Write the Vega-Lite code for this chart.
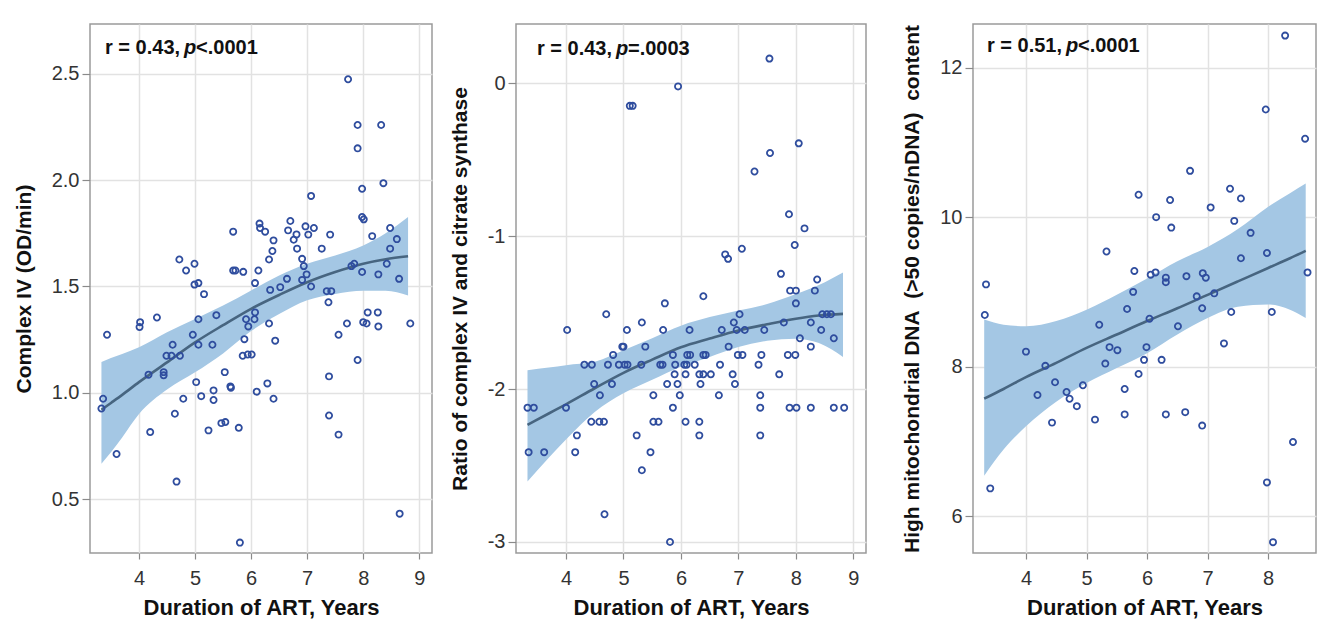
{
  "$schema": "https://vega.github.io/schema/vega-lite/v6.json",
  "padding": {"left": 12, "top": 23, "right": 0, "bottom": 0},
  "autosize": {"type": "pad"},
  "config": {
    "view": {"stroke": "#9a9a9a", "strokeWidth": 1.5},
    "axis": {
      "labelFont": "Liberation Sans", "labelFontSize": 20, "labelColor": "#333333",
      "titleFont": "Liberation Sans", "titleFontSize": 21, "titleFontWeight": "bold", "titleColor": "#111111",
      "domain": false, "gridColor": "#e2e2e2", "gridWidth": 1.5, "tickColor": "#8a8a8a", "tickWidth": 1.2
    },
    "axisX": {"tickSize": 6, "labelPadding": 9, "titlePadding": 9, "titleFontSize": 22},
    "axisY": {"tickSize": 8, "labelPadding": 3, "titlePadding": 17},
    "text": {"font": "Liberation Sans"}
  },
  "datasets": {
    "p1": [
      {"x":7.73,"y":2.475},{"x":7.90,"y":2.26},{"x":8.32,"y":2.26},{"x":7.90,"y":2.15},{"x":8.36,"y":1.986},{"x":7.98,"y":1.96},{"x":7.07,"y":1.926},{"x":7.98,"y":1.827},{"x":8.01,"y":1.816},{"x":8.48,"y":1.775},{"x":8.16,"y":1.737},{"x":8.60,"y":1.723},{"x":8.48,"y":1.678},{"x":7.84,"y":1.607},{"x":7.79,"y":1.596},{"x":7.98,"y":1.568},{"x":8.27,"y":1.557},{"x":8.42,"y":1.607},{"x":8.64,"y":1.536},{"x":7.41,"y":1.744},{"x":7.26,"y":1.678},{"x":6.70,"y":1.808},{"x":6.66,"y":1.764},{"x":6.81,"y":1.745},{"x":6.76,"y":1.720},{"x":6.82,"y":1.678},{"x":6.97,"y":1.783},{"x":7.02,"y":1.744},{"x":7.12,"y":1.775},{"x":6.91,"y":1.630},{"x":6.94,"y":1.596},{"x":6.99,"y":1.557},{"x":6.91,"y":1.531},{"x":7.07,"y":1.5},{"x":6.64,"y":1.536},{"x":6.52,"y":1.497},{"x":6.34,"y":1.484},{"x":7.35,"y":1.478},{"x":7.43,"y":1.478},{"x":7.38,"y":1.426},{"x":5.68,"y":1.758},{"x":6.15,"y":1.796},{"x":6.16,"y":1.775},{"x":6.25,"y":1.758},{"x":6.40,"y":1.717},{"x":6.38,"y":1.667},{"x":6.32,"y":1.627},{"x":5.68,"y":1.575},{"x":5.72,"y":1.575},{"x":5.86,"y":1.569},{"x":6.13,"y":1.575},{"x":6.07,"y":1.516},{"x":4.72,"y":1.627},{"x":4.84,"y":1.575},{"x":4.99,"y":1.607},{"x":4.99,"y":1.509},{"x":5.06,"y":1.516},{"x":5.16,"y":1.464},
      {"x":3.43,"y":1.273},{"x":4.02,"y":1.332},{"x":4.01,"y":1.309},{"x":4.32,"y":1.354},{"x":5.06,"y":1.346},{"x":5.38,"y":1.365},{"x":4.96,"y":1.273},{"x":4.60,"y":1.226},{"x":5.06,"y":1.226},{"x":5.31,"y":1.226},{"x":4.49,"y":1.174},{"x":4.58,"y":1.174},{"x":4.73,"y":1.174},{"x":4.17,"y":1.085},{"x":4.44,"y":1.097},{"x":4.44,"y":1.082},{"x":5.02,"y":1.05},{"x":5.53,"y":1.097},{"x":5.33,"y":1.011},{"x":5.63,"y":1.03},{"x":5.64,"y":1.024},{"x":5.11,"y":0.984},{"x":5.33,"y":0.966},{"x":4.79,"y":0.972},{"x":6.10,"y":1.005},{"x":6.29,"y":1.044},{"x":6.40,"y":0.972},{"x":5.85,"y":1.174},{"x":5.94,"y":1.18},{"x":6.01,"y":1.18},{"x":5.88,"y":1.252},{"x":5.91,"y":1.346},{"x":6.07,"y":1.378},{"x":6.06,"y":1.346},{"x":5.95,"y":1.312},{"x":6.32,"y":1.326},{"x":6.43,"y":1.245},{"x":3.36,"y":0.972},{"x":3.33,"y":0.926},{"x":3.60,"y":0.712},{"x":4.20,"y":0.815},{"x":4.64,"y":0.901},{"x":4.67,"y":0.582},{"x":5.24,"y":0.823},{"x":5.47,"y":0.857},{"x":5.54,"y":0.862},{"x":5.78,"y":0.835},{"x":5.80,"y":0.295},{"x":8.65,"y":0.431},{"x":7.39,"y":1.077},{"x":7.39,"y":0.893},{"x":7.56,"y":0.803},{"x":7.56,"y":1.273},{"x":7.71,"y":1.326},{"x":7.90,"y":1.154},{"x":8.00,"y":1.332},{"x":8.06,"y":1.326},{"x":8.08,"y":1.378},{"x":8.26,"y":1.378},{"x":8.27,"y":1.312},{"x":8.84,"y":1.326}
    ],
    "p1fit": [
      {"x":3.33,"y":0.92,"lo":0.666,"hi":1.145},{"x":3.5,"y":0.952,"lo":0.72,"hi":1.163},{"x":3.7,"y":0.99,"lo":0.79,"hi":1.182},{"x":4.0,"y":1.05,"lo":0.90,"hi":1.214},{"x":4.5,"y":1.143,"lo":1.015,"hi":1.285},{"x":5.0,"y":1.237,"lo":1.096,"hi":1.347},{"x":5.5,"y":1.318,"lo":1.185,"hi":1.41},{"x":6.0,"y":1.395,"lo":1.29,"hi":1.481},{"x":6.5,"y":1.46,"lo":1.37,"hi":1.552},{"x":7.0,"y":1.52,"lo":1.435,"hi":1.607},{"x":7.5,"y":1.568,"lo":1.465,"hi":1.646},{"x":8.0,"y":1.607,"lo":1.48,"hi":1.693},{"x":8.4,"y":1.628,"lo":1.48,"hi":1.75},{"x":8.8,"y":1.642,"lo":1.458,"hi":1.827}
    ],
    "p1note": [{"x":3.394,"y":2.594,"a":"r = 0.43, ","p":"p","b":"<.0001"}],
    "p2": [
      {"x":7.54,"y":0.16},{"x":5.95,"y":-0.022},{"x":5.11,"y":-0.149},{"x":5.16,"y":-0.149},{"x":8.05,"y":-0.394},{"x":7.55,"y":-0.457},{"x":7.28,"y":-0.578},{"x":7.88,"y":-0.858},{"x":8.15,"y":-0.95},{"x":7.98,"y":-1.059},{"x":7.06,"y":-1.083},{"x":6.77,"y":-1.12},{"x":6.82,"y":-1.149},{"x":7.74,"y":-1.247},{"x":8.37,"y":-1.284},{"x":7.90,"y":-1.357},{"x":8.00,"y":-1.357},{"x":8.33,"y":-1.357},{"x":6.39,"y":-1.394},{"x":5.72,"y":-1.44},{"x":8.00,"y":-1.44},
      {"x":4.70,"y":-1.511},{"x":4.02,"y":-1.614},{"x":5.06,"y":-1.614},{"x":5.32,"y":-1.565},{"x":5.69,"y":-1.614},{"x":4.98,"y":-1.723},{"x":5.00,"y":-1.723},{"x":5.38,"y":-1.723},{"x":4.82,"y":-1.777},{"x":4.32,"y":-1.841},{"x":4.45,"y":-1.841},{"x":4.73,"y":-1.841},{"x":4.92,"y":-1.841},{"x":5.02,"y":-1.841},{"x":5.07,"y":-1.841},{"x":5.31,"y":-1.841},{"x":5.64,"y":-1.841},{"x":5.68,"y":-1.841},{"x":4.49,"y":-1.967},{"x":4.80,"y":-1.967},{"x":4.59,"y":-2.041},{"x":5.52,"y":-2.041},{"x":4.00,"y":-2.122},{"x":3.33,"y":-2.122},{"x":3.44,"y":-2.122},{"x":3.35,"y":-2.413},{"x":3.62,"y":-2.413},{"x":4.19,"y":-2.303},{"x":4.16,"y":-2.413},{"x":4.44,"y":-2.214},{"x":4.58,"y":-2.214},{"x":4.66,"y":-2.214},{"x":4.67,"y":-2.819},{"x":5.23,"y":-2.303},{"x":5.47,"y":-2.413},{"x":5.32,"y":-2.531},{"x":5.52,"y":-2.214},{"x":5.61,"y":-2.214},{"x":5.86,"y":-2.122},{"x":5.81,"y":-3.0},{"x":5.76,"y":-1.967},{"x":5.94,"y":-1.967},{"x":5.86,"y":-1.777},{"x":5.90,"y":-1.841},{"x":5.89,"y":-1.904},{"x":5.98,"y":-2.041},{"x":6.08,"y":-2.214},{"x":6.08,"y":-1.904},{"x":6.06,"y":-1.841},{"x":6.10,"y":-1.841},{"x":6.11,"y":-1.777},{"x":6.16,"y":-1.777},{"x":6.15,"y":-1.614},{"x":6.24,"y":-1.841},{"x":6.32,"y":-1.904},{"x":6.39,"y":-1.904},{"x":6.52,"y":-1.904},{"x":6.34,"y":-1.967},{"x":6.32,"y":-2.214},{"x":6.32,"y":-2.303},{"x":6.39,"y":-1.777},{"x":6.43,"y":-1.777},{"x":6.66,"y":-2.041},{"x":6.68,"y":-1.841},{"x":6.71,"y":-1.614},{"x":6.83,"y":-1.723},{"x":6.90,"y":-1.904},{"x":6.94,"y":-1.967},{"x":6.92,"y":-1.565},{"x":6.97,"y":-1.614},{"x":7.02,"y":-1.511},{"x":6.99,"y":-1.777},{"x":7.07,"y":-1.777},{"x":7.11,"y":-1.614},{"x":7.35,"y":-1.841},{"x":7.38,"y":-2.041},{"x":7.38,"y":-2.122},{"x":7.38,"y":-2.303},{"x":7.40,"y":-1.777},{"x":7.45,"y":-1.614},{"x":7.71,"y":-1.904},{"x":7.79,"y":-1.565},{"x":7.86,"y":-1.777},{"x":7.99,"y":-1.777},{"x":7.89,"y":-2.122},{"x":8.01,"y":-2.122},{"x":8.07,"y":-1.668},{"x":8.26,"y":-1.565},{"x":8.26,"y":-1.723},{"x":8.26,"y":-2.122},{"x":8.44,"y":-1.614},{"x":8.46,"y":-1.511},{"x":8.54,"y":-1.511},{"x":8.61,"y":-1.511},{"x":8.66,"y":-1.668},{"x":8.66,"y":-2.122},{"x":8.84,"y":-2.122}
    ],
    "p2fit": [
      {"x":3.33,"y":-2.234,"lo":-2.605,"hi":-1.877},{"x":3.7,"y":-2.16,"lo":-2.45,"hi":-1.86},{"x":4.0,"y":-2.10,"lo":-2.33,"hi":-1.844},{"x":4.5,"y":-1.995,"lo":-2.15,"hi":-1.822},{"x":5.0,"y":-1.894,"lo":-2.028,"hi":-1.747},{"x":5.5,"y":-1.808,"lo":-1.94,"hi":-1.668},{"x":6.0,"y":-1.727,"lo":-1.855,"hi":-1.586},{"x":6.5,"y":-1.67,"lo":-1.79,"hi":-1.53},{"x":7.0,"y":-1.617,"lo":-1.725,"hi":-1.487},{"x":7.5,"y":-1.577,"lo":-1.685,"hi":-1.445},{"x":8.0,"y":-1.541,"lo":-1.671,"hi":-1.379},{"x":8.4,"y":-1.52,"lo":-1.70,"hi":-1.32},{"x":8.82,"y":-1.509,"lo":-1.79,"hi":-1.238}
    ],
    "p2note": [{"x":3.495,"y":0.183,"a":"r = 0.43, ","p":"p","b":"=.0003"}],
    "p3": [
      {"x":8.28,"y":12.43},{"x":7.96,"y":11.44},{"x":8.61,"y":11.05},{"x":6.71,"y":10.62},{"x":5.86,"y":10.30},{"x":7.37,"y":10.38},{"x":7.55,"y":10.25},{"x":6.38,"y":10.23},{"x":6.15,"y":10.0},{"x":7.05,"y":10.13},{"x":7.44,"y":9.95},{"x":6.40,"y":9.86},{"x":7.71,"y":9.79},{"x":5.33,"y":9.54},{"x":7.55,"y":9.45},{"x":7.98,"y":9.52},{"x":5.79,"y":9.28},{"x":6.06,"y":9.23},{"x":6.14,"y":9.26},{"x":6.31,"y":9.19},{"x":6.31,"y":9.13},{"x":6.65,"y":9.21},{"x":6.92,"y":9.25},{"x":6.97,"y":9.19},{"x":8.65,"y":9.26},{"x":3.34,"y":9.10},{"x":5.77,"y":9.0},{"x":7.11,"y":8.98},{"x":6.82,"y":8.94},{"x":3.32,"y":8.69},{"x":5.67,"y":8.77},{"x":6.91,"y":8.78},{"x":7.39,"y":8.73},{"x":8.06,"y":8.73},{"x":5.21,"y":8.56},{"x":6.04,"y":8.64},{"x":6.51,"y":8.54},{"x":5.38,"y":8.26},{"x":5.51,"y":8.22},{"x":5.99,"y":8.26},{"x":7.27,"y":8.31},{"x":4.00,"y":8.20},{"x":4.32,"y":8.01},{"x":5.31,"y":8.04},{"x":5.95,"y":8.09},{"x":6.24,"y":8.09},{"x":5.86,"y":7.90},{"x":4.48,"y":7.79},{"x":4.94,"y":7.75},{"x":4.19,"y":7.62},{"x":4.67,"y":7.66},{"x":4.72,"y":7.57},{"x":4.84,"y":7.47},{"x":5.63,"y":7.70},{"x":4.43,"y":7.25},{"x":5.14,"y":7.29},{"x":5.63,"y":7.36},{"x":6.31,"y":7.36},{"x":6.63,"y":7.39},{"x":6.91,"y":7.21},{"x":8.41,"y":6.99},{"x":3.41,"y":6.37},{"x":7.98,"y":6.45},{"x":8.08,"y":5.65}
    ],
    "p3fit": [
      {"x":3.31,"y":7.57,"lo":6.54,"hi":8.63},{"x":3.63,"y":7.70,"lo":6.89,"hi":8.56},{"x":4.0,"y":7.86,"lo":7.2,"hi":8.54},{"x":4.5,"y":8.05,"lo":7.53,"hi":8.61},{"x":5.0,"y":8.25,"lo":7.78,"hi":8.76},{"x":5.5,"y":8.43,"lo":7.98,"hi":8.96},{"x":6.0,"y":8.61,"lo":8.18,"hi":9.18},{"x":6.5,"y":8.78,"lo":8.43,"hi":9.41},{"x":7.0,"y":8.96,"lo":8.65,"hi":9.6},{"x":7.5,"y":9.14,"lo":8.8,"hi":9.84},{"x":8.0,"y":9.32,"lo":8.83,"hi":10.14},{"x":8.36,"y":9.45,"lo":8.76,"hi":10.32},{"x":8.62,"y":9.55,"lo":8.65,"hi":10.45}
    ],
    "p3note": [{"x":3.356,"y":12.21,"a":"r = 0.51, ","p":"p","b":"<.0001"}]
  },
  "spacing": 15,
  "hconcat": [
    {
      "width": 342, "height": 529,
      "encoding": {
        "x": {"field": "x", "type": "quantitative", "title": "Duration of ART, Years", "scale": {"domain": [3.126, 9.227], "nice": false, "zero": false}, "axis": {"values": [4,5,6,7,8,9], "format": "d"}},
        "y": {"field": "y", "type": "quantitative", "title": "Complex IV (OD/min)", "scale": {"domain": [0.246, 2.735], "nice": false, "zero": false}, "axis": {"values": [0.5,1,1.5,2,2.5], "format": ".1f"}}
      },
      "layer": [
        {"data": {"name": "p1fit"}, "mark": {"type": "area", "color": "#a4c7e4", "interpolate": "monotone"},
         "encoding": {"y": {"field": "lo", "type": "quantitative", "title": "Complex IV (OD/min)", "scale": {"domain": [0.246, 2.735], "nice": false, "zero": false}, "axis": {"values": [0.5,1,1.5,2,2.5], "format": ".1f"}}, "y2": {"field": "hi"}}},
        {"data": {"name": "p1fit"}, "mark": {"type": "line", "color": "#476580", "strokeWidth": 2.6, "interpolate": "monotone"}},
        {"data": {"name": "p1"}, "mark": {"type": "point", "shape": "circle", "filled": false, "stroke": "#2f4d9e", "strokeWidth": 1.8, "size": 38, "opacity": 1}},
        {"data": {"name": "p1note"}, "mark": {"type": "text", "align": "left", "baseline": "alphabetic", "fontSize": 20, "fontWeight": "bold", "color": "#111111"}, "encoding": {"text": {"field": "a"}}},
        {"data": {"name": "p1note"}, "mark": {"type": "text", "align": "left", "baseline": "alphabetic", "fontSize": 20, "fontWeight": "bold", "fontStyle": "italic", "color": "#111111", "dx": 79}, "encoding": {"text": {"field": "p"}}},
        {"data": {"name": "p1note"}, "mark": {"type": "text", "align": "left", "baseline": "alphabetic", "fontSize": 20, "fontWeight": "bold", "color": "#111111", "dx": 91}, "encoding": {"text": {"field": "b"}}}
      ]
    },
    {
      "spacing": 34,
      "hconcat": [
        {
          "width": 350, "height": 529,
          "encoding": {
            "x": {"field": "x", "type": "quantitative", "title": "Duration of ART, Years", "scale": {"domain": [3.13, 9.22], "nice": false, "zero": false}, "axis": {"values": [4,5,6,7,8,9], "format": "d"}},
            "y": {"field": "y", "type": "quantitative", "title": "Ratio of complex IV and citrate synthase", "scale": {"domain": [-3.072, 0.386], "nice": false, "zero": false}, "axis": {"values": [-3,-2,-1,0], "labelExpr": "replace(datum.label, '\u2212', '-')"}}
          },
          "layer": [
            {"data": {"name": "p2fit"}, "mark": {"type": "area", "color": "#a4c7e4", "interpolate": "monotone"},
             "encoding": {"y": {"field": "lo", "type": "quantitative", "title": "Ratio of complex IV and citrate synthase", "scale": {"domain": [-3.072, 0.386], "nice": false, "zero": false}, "axis": {"values": [-3,-2,-1,0], "labelExpr": "replace(datum.label, '\u2212', '-')"}}, "y2": {"field": "hi"}}},
            {"data": {"name": "p2fit"}, "mark": {"type": "line", "color": "#476580", "strokeWidth": 2.6, "interpolate": "monotone"}},
            {"data": {"name": "p2"}, "mark": {"type": "point", "shape": "circle", "filled": false, "stroke": "#2f4d9e", "strokeWidth": 1.8, "size": 38, "opacity": 1}},
            {"data": {"name": "p2note"}, "mark": {"type": "text", "align": "left", "baseline": "alphabetic", "fontSize": 20, "fontWeight": "bold", "color": "#111111"}, "encoding": {"text": {"field": "a"}}},
            {"data": {"name": "p2note"}, "mark": {"type": "text", "align": "left", "baseline": "alphabetic", "fontSize": 20, "fontWeight": "bold", "fontStyle": "italic", "color": "#111111", "dx": 79}, "encoding": {"text": {"field": "p"}}},
            {"data": {"name": "p2note"}, "mark": {"type": "text", "align": "left", "baseline": "alphabetic", "fontSize": 20, "fontWeight": "bold", "color": "#111111", "dx": 91}, "encoding": {"text": {"field": "b"}}}
          ]
        },
        {
          "width": 343, "height": 529,
          "encoding": {
            "x": {"field": "x", "type": "quantitative", "title": "Duration of ART, Years", "scale": {"domain": [3.125, 8.79], "nice": false, "zero": false}, "axis": {"values": [4,5,6,7,8], "format": "d"}},
            "y": {"field": "y", "type": "quantitative", "title": "High mitochondrial DNA\u00a0\u00a0(>50 copies/nDNA)\u00a0\u00a0content", "scale": {"domain": [5.505, 12.585], "nice": false, "zero": false}, "axis": {"values": [6,8,10,12], "format": "d"}}
          },
          "layer": [
            {"data": {"name": "p3fit"}, "mark": {"type": "area", "color": "#a4c7e4", "interpolate": "monotone"},
             "encoding": {"y": {"field": "lo", "type": "quantitative", "title": "High mitochondrial DNA\u00a0\u00a0(>50 copies/nDNA)\u00a0\u00a0content", "scale": {"domain": [5.505, 12.585], "nice": false, "zero": false}, "axis": {"values": [6,8,10,12], "format": "d"}}, "y2": {"field": "hi"}}},
            {"data": {"name": "p3fit"}, "mark": {"type": "line", "color": "#476580", "strokeWidth": 2.6, "interpolate": "monotone"}},
            {"data": {"name": "p3"}, "mark": {"type": "point", "shape": "circle", "filled": false, "stroke": "#2f4d9e", "strokeWidth": 1.8, "size": 38, "opacity": 1}},
            {"data": {"name": "p3note"}, "mark": {"type": "text", "align": "left", "baseline": "alphabetic", "fontSize": 20, "fontWeight": "bold", "color": "#111111"}, "encoding": {"text": {"field": "a"}}},
            {"data": {"name": "p3note"}, "mark": {"type": "text", "align": "left", "baseline": "alphabetic", "fontSize": 20, "fontWeight": "bold", "fontStyle": "italic", "color": "#111111", "dx": 79}, "encoding": {"text": {"field": "p"}}},
            {"data": {"name": "p3note"}, "mark": {"type": "text", "align": "left", "baseline": "alphabetic", "fontSize": 20, "fontWeight": "bold", "color": "#111111", "dx": 91}, "encoding": {"text": {"field": "b"}}}
          ]
        }
      ]
    }
  ]
}
